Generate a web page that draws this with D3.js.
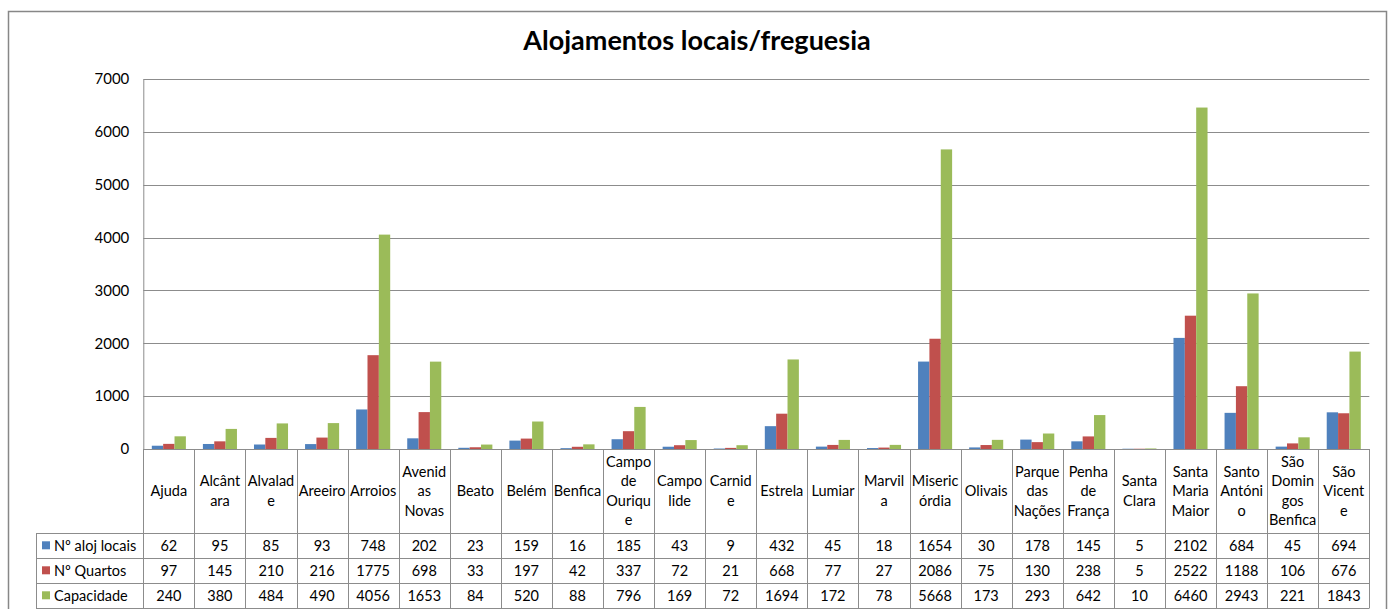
<!DOCTYPE html>
<html>
<head>
<meta charset="utf-8">
<script src="https://cdnjs.cloudflare.com/ajax/libs/d3/7.8.5/d3.min.js"></script>
<style>
  html, body { margin: 0; padding: 0; background: #fff; }
  svg { display: block; font-family: Lato, "Open Sans", sans-serif; }
</style>
</head>
<body>
<script>
// Freguesias (line breaks as wrapped in the table header)
const categories = [
  "Ajuda", "Alcânt|ara", "Alvalad|e", "Areeiro", "Arroios", "Avenid|as|Novas",
  "Beato", "Belém", "Benfica", "Campo|de|Ouriqu|e", "Campo|lide", "Carnid|e",
  "Estrela", "Lumiar", "Marvil|a", "Miseric|órdia", "Olivais", "Parque|das|Nações",
  "Penha|de|França", "Santa|Clara", "Santa|Maria|Maior", "Santo|Antóni|o",
  "São|Domin|gos|Benfica", "São|Vicent|e"
];

const seriesNames = ["Nº aloj locais", "Nº Quartos", "Capacidade"];
const seriesColors = ["#4F81BD", "#C0504D", "#9BBB59"];

const alojLocais = [62, 95, 85, 93, 748, 202, 23, 159, 16, 185, 43, 9, 432, 45, 18, 1654, 30, 178, 145, 5, 2102, 684, 45, 694];
const quartos = [97, 145, 210, 216, 1775, 698, 33, 197, 42, 337, 72, 21, 668, 77, 27, 2086, 75, 130, 238, 5, 2522, 1188, 106, 676];
const capacidade = [240, 380, 484, 490, 4056, 1653, 84, 520, 88, 796, 169, 72, 1694, 172, 78, 5668, 173, 293, 642, 10, 6460, 2943, 221, 1843];

const yTicks = [0, 1000, 2000, 3000, 4000, 5000, 6000, 7000];

const seriesValues = [alojLocais, quartos, capacidade];

// Layout
const W = 1392, H = 609;
const plot = { left: 143.3, right: 1369.3, top: 79, bottom: 449 };
const tableLeft = 36;
const headerBottom = 533.3;
const rowH = 25;
const gridColor = "#8C8C8C";

const svg = d3.select("body").append("svg")
  .attr("width", W)
  .attr("height", H);

svg.append("rect").attr("width", W).attr("height", H).attr("fill", "#fff");

// Chart frame
svg.append("rect")
  .attr("x", 8.5).attr("y", 11.5)
  .attr("width", 1378).attr("height", 620)
  .attr("fill", "none")
  .attr("stroke", "#878787")
  .attr("stroke-width", 1.5);

// Title
svg.append("text")
  .attr("x", 697).attr("y", 50)
  .attr("text-anchor", "middle")
  .attr("font-size", 27)
  .attr("font-weight", "bold")
  .attr("fill", "#000")
  .text("Alojamentos locais/freguesia");

// Scales
const x0 = d3.scaleBand()
  .domain(d3.range(categories.length))
  .range([plot.left, plot.right])
  .padding(0);

const x1 = d3.scaleBand()
  .domain(d3.range(seriesNames.length))
  .range([0, x0.bandwidth()])
  .paddingInner(0)
  .paddingOuter(0.75);

const y = d3.scaleLinear()
  .domain([0, 7000])
  .range([plot.bottom, plot.top]);

// Gridlines
svg.append("g")
  .selectAll("line")
  .data(yTicks.filter(t => t > 0))
  .join("line")
  .attr("x1", plot.left).attr("x2", plot.right)
  .attr("y1", d => Math.round(y(d)) + 0.5).attr("y2", d => Math.round(y(d)) + 0.5)
  .attr("stroke", gridColor)
  .attr("stroke-width", 1);

// Y axis
const yAxis = svg.append("g")
  .attr("transform", `translate(${plot.left},0)`)
  .call(d3.axisLeft(y).tickValues(yTicks).tickSize(0).tickPadding(14).tickFormat(d3.format("d")));
yAxis.select(".domain").attr("stroke", gridColor);
yAxis.selectAll("text")
  .attr("font-family", "Lato, sans-serif")
  .attr("font-size", 15)
  .attr("fill", "#000");

// Bars
const groups = svg.append("g")
  .selectAll("g")
  .data(categories.map((c, i) => i))
  .join("g")
  .attr("transform", i => `translate(${x0(i)},0)`);

groups.selectAll("rect")
  .data(i => seriesValues.map((vals, s) => ({ s, v: vals[i] })))
  .join("rect")
  .attr("x", d => x1(d.s))
  .attr("width", x1.bandwidth())
  .attr("y", d => y(d.v))
  .attr("height", d => y(0) - y(d.v))
  .attr("fill", d => seriesColors[d.s]);

// Data table
const table = svg.append("g");

// x axis line (top of table)
table.append("line")
  .attr("x1", plot.left).attr("x2", plot.right)
  .attr("y1", plot.bottom + 0.5).attr("y2", plot.bottom + 0.5)
  .attr("stroke", gridColor);

// vertical lines for category boundaries
const bounds = d3.range(categories.length + 1).map(i => i < categories.length ? x0(i) : plot.right);
table.selectAll("line.v")
  .data(bounds)
  .join("line")
  .attr("class", "v")
  .attr("x1", d => Math.round(d) + 0.5).attr("x2", d => Math.round(d) + 0.5)
  .attr("y1", plot.bottom).attr("y2", headerBottom + rowH * 3)
  .attr("stroke", gridColor);

// horizontal row lines
table.selectAll("line.h")
  .data(d3.range(4))
  .join("line")
  .attr("class", "h")
  .attr("x1", tableLeft).attr("x2", plot.right)
  .attr("y1", r => Math.round(headerBottom + r * rowH) + 0.5)
  .attr("y2", r => Math.round(headerBottom + r * rowH) + 0.5)
  .attr("stroke", gridColor);

// legend column left edge
table.append("line")
  .attr("x1", tableLeft + 0.5).attr("x2", tableLeft + 0.5)
  .attr("y1", headerBottom).attr("y2", headerBottom + rowH * 3)
  .attr("stroke", gridColor);

// category headers
const lineH = 19.5;
const headerMid = (plot.bottom + headerBottom) / 2;
categories.forEach((c, i) => {
  const lines = c.split("|");
  const t = table.append("text")
    .attr("text-anchor", "middle")
    .attr("font-size", 14.5)
    .attr("fill", "#000");
  lines.forEach((ln, k) => {
    t.append("tspan")
      .attr("x", x0(i) + x0.bandwidth() / 2)
      .attr("y", headerMid + (k - (lines.length - 1) / 2) * lineH + 5)
      .text(ln);
  });
});

// series rows
seriesNames.forEach((name, s) => {
  const rowMid = headerBottom + s * rowH + rowH / 2;
  table.append("rect")
    .attr("x", 42).attr("y", rowMid - 4.5)
    .attr("width", 8).attr("height", 8)
    .attr("fill", seriesColors[s]);
  table.append("text")
    .attr("x", 54).attr("y", rowMid + 5)
    .attr("font-size", 14.5)
    .attr("fill", "#000")
    .text(name);
  table.selectAll(null)
    .data(seriesValues[s])
    .join("text")
    .attr("x", (v, i) => x0(i) + x0.bandwidth() / 2)
    .attr("y", rowMid + 5)
    .attr("text-anchor", "middle")
    .attr("font-size", 14.5)
    .attr("fill", "#000")
    .text(v => v);
});
</script>
</body>
</html>
